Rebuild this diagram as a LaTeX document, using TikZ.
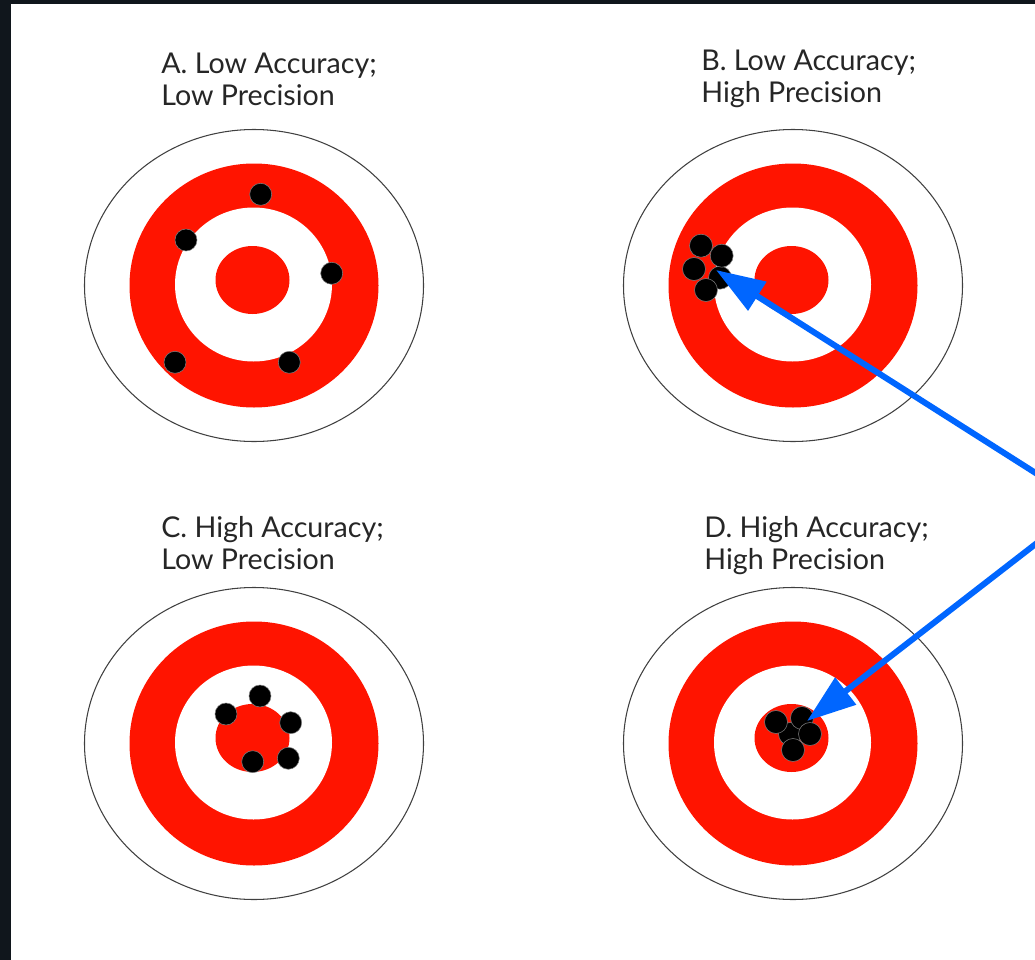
\documentclass[tikz,border=0pt]{standalone}
\usepackage{fontspec}
\setmainfont{Lato}
\usepackage{tikz}
\usetikzlibrary{arrows.meta}

\definecolor{ringred}{RGB}{255,20,0}
\definecolor{arrowblue}{RGB}{0,102,255}
\definecolor{slideframe}{RGB}{16,22,28}

\begin{document}
\begin{tikzpicture}[x=0.02cm, y=-0.02cm,
  lbl/.style={anchor=base west, align=left, inner sep=0pt,
              font=\fontsize{16.3}{18.2}\selectfont, text=black!85},
  hit/.style={fill=black, draw=black!50, line width=0.3pt},
  arr/.style={-{Triangle[length=0.98cm, width=0.66cm]}, line width=0.12cm, arrowblue}
]
\useasboundingbox (0,0) rectangle (1035,960);

% ─── slide background + dark frame ───
\fill[white] (0,0) rectangle (1035,960);
\fill[slideframe] (0,0) rectangle (11,960);
\fill[slideframe] (0,0) rectangle (1035,4);

% ─── the four targets ───
\foreach \cx/\cy in {254/285.5, 793/285.5, 254/743.5, 793/743.5} {
  \draw[black!75, line width=0.6pt] (\cx,\cy) circle [x radius=169.5, y radius=156];
  \fill[ringred] (\cx,\cy) circle [x radius=124.5, y radius=122];
  \fill[white] (\cx-0.5,\cy-1) circle [x radius=78.5, y radius=77];
  \fill[ringred] (\cx-1.5,\cy-5.5) circle [x radius=37, y radius=34];
}

% ─── labels (anchor is the baseline of the 2nd line) ───
\node[lbl] (labA) at (161,105) {A. Low Accuracy;\\Low Precision};
\node[lbl] (labB) at (701,102) {B. Low Accuracy;\\High Precision};
\node[lbl] (labC) at (161,569) {C. High Accuracy;\\Low Precision};
\node[lbl] (labD) at (704,569) {D. High Accuracy;\\High Precision};

% ─── shots ───
\foreach \hx/\hy in {260.7/194.3, 186/240, 331.7/273.3, 175/362.3, 289.3/362.3}
  \draw[hit] (\hx,\hy) circle [radius=11];
\foreach \hx/\hy in {720/277.7, 701/245.7, 721.7/255.7, 694/269, 706/290}
  \draw[hit] (\hx,\hy) circle [radius=11.5];
\foreach \hx/\hy in {260/696, 226/714, 290.7/722.7, 252.7/761.7, 288.3/758.3}
  \draw[hit] (\hx,\hy) circle [radius=11];
\foreach \hx/\hy in {790/734, 776/722, 802/718, 810/734, 793/750}
  \draw[hit] (\hx,\hy) circle [radius=11.5];

% ─── pointers ───
\coordinate (src)  at (1086,505);
\coordinate (tipB) at (716,270);
\coordinate (tipD) at (807,721);
\draw[arr] (src) -- (tipB);
\draw[arr] (src) -- (tipD);

\end{tikzpicture}
\end{document}
